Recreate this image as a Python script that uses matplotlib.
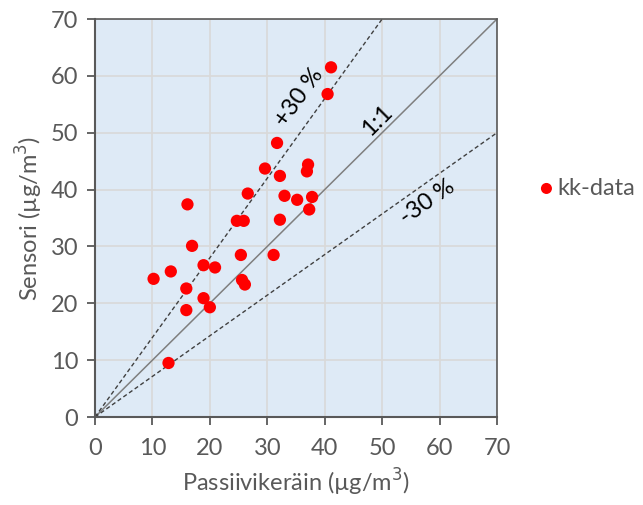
import matplotlib
matplotlib.use("Agg")
import matplotlib.pyplot as plt
import numpy as np

passive = [41.1, 40.5, 31.7, 29.6, 32.2, 37.1, 36.9, 26.6, 33.0, 35.2, 37.8, 37.3,
           16.1, 24.7, 25.9, 32.2, 16.9, 25.4, 31.1, 18.9, 20.9, 13.2, 10.2, 15.9,
           25.6, 26.1, 18.9, 15.9, 20.0, 12.8]
sensor = [61.5, 56.8, 48.2, 43.7, 42.4, 44.4, 43.2, 39.3, 38.9, 38.2, 38.7, 36.5,
          37.4, 34.5, 34.5, 34.7, 30.1, 28.5, 28.5, 26.7, 26.3, 25.6, 24.3, 22.6,
          24.1, 23.3, 20.9, 18.8, 19.3, 9.5]
ticks = [0, 10, 20, 30, 40, 50, 60, 70]
upper_slope = 1.4
lower_slope = 1 / 1.4

plt.rcParams['font.family'] = ['Lato', 'DejaVu Sans']
fig = plt.figure(figsize=(6.43, 5.05), dpi=100)
ax = fig.add_axes([95/643, 88/505, 402/643, 398/505])
ax.set_facecolor('#DEEAF6')
ax.set_xlim(0, 70)
ax.set_ylim(0, 70)
ax.set_xticks(ticks)
ax.set_yticks(ticks)
ax.grid(True, color='#D9D9D9', lw=1.2)
ax.set_axisbelow(True)

xs = np.array([0, 70])
ax.plot(xs, xs, color='#7F7F7F', lw=1.1, zorder=2)
ax.plot([0, 70/upper_slope], [0, 70], color='#404040', lw=1, ls=(0, (3, 2)), zorder=2)
ax.plot(xs, xs*lower_slope, color='#404040', lw=1, ls=(0, (3, 2)), zorder=2)

ax.scatter(passive, sensor, s=78, color='#FF0000', edgecolors='none', zorder=3, label='kk-data')

ax.text(35.5, 56.3, '+30 %', rotation=54, fontsize=17, ha='center', va='center')
ax.text(49.2, 52.2, '1:1', rotation=45, fontsize=17, ha='center', va='center')
ax.text(57.8, 37.8, '-30 %', rotation=35, fontsize=17, ha='center', va='center')

for s in ['left', 'bottom']:
    ax.spines[s].set_color('#595959')
    ax.spines[s].set_linewidth(1.5)
for s in ['top', 'right']:
    ax.spines[s].set_color('#595959')
    ax.spines[s].set_linewidth(1.2)
ax.tick_params(direction='out', length=6, width=1.3, color='#595959',
               labelcolor='#595959', labelsize=17, pad=6)
ax.tick_params(axis='x', pad=9)

ax.set_xlabel('Passiivikeräin (µg/m$^3$)', fontsize=17, color='#595959', labelpad=6)
ax.set_ylabel('Sensori (µg/m$^3$)', fontsize=17, color='#595959', labelpad=4)

leg = ax.legend(loc='center left', bbox_to_anchor=(1.0995, 0.575), frameon=False,
                fontsize=17, handletextpad=0.05, handlelength=0.8, markerscale=0.9,
                borderpad=0, borderaxespad=0)
for t in leg.get_texts():
    t.set_color('#595959')

fig.savefig('out.png', dpi=100)
